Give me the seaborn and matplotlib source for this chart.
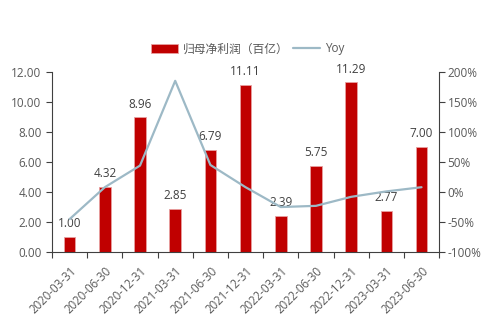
import matplotlib
matplotlib.use("Agg")
import matplotlib.pyplot as plt
import matplotlib.transforms as mtransforms
import seaborn as sns
import numpy as np
import pandas as pd
from matplotlib.patches import Patch
from matplotlib.lines import Line2D
from matplotlib.ticker import FuncFormatter, FixedLocator

dates = ["2020-03-31", "2020-06-30", "2020-12-31", "2021-03-31", "2021-06-30",
         "2021-12-31", "2022-03-31", "2022-06-30", "2022-12-31", "2023-03-31", "2023-06-30"]
profit = [1.00, 4.32, 8.96, 2.85, 6.79, 11.11, 2.39, 5.75, 11.29, 2.77, 7.00]
yoy = [-45, 8, 44, 185, 45, 8, -25, -23, -8, 1, 8]

bar_label = "归母净利润（百亿）"
line_label = "Yoy"

sns.set_theme(style="white")
plt.rcParams['font.family'] = ['Open Sans', 'Noto Sans CJK SC', 'DejaVu Sans']

txt = "#595959"
spine_c = "#404040"
bar_c = "#C00000"
line_c = "#9DB9C6"

fig = plt.figure(figsize=(4.82, 3.22), dpi=100)
ax = fig.add_axes([0.108, 0.217, 0.803, 0.56])

df = pd.DataFrame({"date": dates, "profit": profit, "idx": np.arange(len(dates)), "yoy": yoy})
sns.barplot(data=df, x="date", y="profit", color=bar_c, width=0.33, ax=ax,
            edgecolor="#E8A0A0", linewidth=0.6, saturation=1)

for i, v in enumerate(profit):
    ax.annotate(f"{v:.2f}", (i, v), xytext=(0, 5), textcoords="offset points",
                ha="center", va="bottom", fontsize=8.5, color="#404040")

ax.set_ylim(0, 12)
ax.set_yticks(np.arange(0, 12.01, 2))
ax.yaxis.set_major_formatter(FuncFormatter(lambda v, p: f"{v:.2f}"))
ax.set_xlim(-0.5, len(dates) - 0.5)
ax.set_xlabel("")
ax.set_ylabel("")

ax2 = ax.twinx()
sns.lineplot(data=df, x="idx", y="yoy", color=line_c, linewidth=1.6, ax=ax2)
ax2.set_ylim(-100, 200)
ax2.set_yticks(np.arange(-100, 201, 50))
ax2.yaxis.set_major_formatter(FuncFormatter(lambda v, p: f"{v:.0f}%"))
ax2.set_xlim(-0.5, len(dates) - 0.5)
ax2.set_ylabel("")
ax2.set_xlabel("")

ax.set_xticks(np.arange(len(dates)))
ax.set_xticklabels(dates, rotation=45, ha="right", rotation_mode="anchor")
offset = mtransforms.ScaledTranslation(4 / 100, 0, fig.dpi_scale_trans)
for lab in ax.get_xticklabels():
    lab.set_transform(lab.get_transform() + offset)
ax.xaxis.set_minor_locator(FixedLocator(np.arange(-0.5, len(dates), 1)))
ax.tick_params(axis="x", which="major", length=0, labelsize=8.3, labelcolor=txt, pad=9)
ax.tick_params(axis="x", which="minor", length=4, width=0.8, color=spine_c, direction="out", bottom=True)
ax.tick_params(axis="y", length=4, width=0.8, color=spine_c, direction="out", left=True, labelsize=8.5, labelcolor=txt)
ax2.tick_params(axis="y", length=4, width=0.8, color=spine_c, direction="out", right=True, labelsize=8.5, labelcolor=txt, pad=2)

for a in (ax, ax2):
    a.spines["top"].set_visible(False)
    for s in ("left", "right", "bottom"):
        a.spines[s].set_color(spine_c)
        a.spines[s].set_linewidth(0.8)
    a.grid(False)
ax2.spines["left"].set_visible(False)
ax2.spines["bottom"].set_visible(False)
ax.spines["right"].set_visible(False)

handles = [Patch(facecolor=bar_c, edgecolor="#E8A0A0", linewidth=0.6),
           Line2D([0], [0], color=line_c, linewidth=1.6)]
fig.legend(handles, [bar_label, line_label], loc="center", bbox_to_anchor=(0.514, 0.848),
           ncol=2, frameon=False, fontsize=8.5, labelcolor=txt, handlelength=2.3,
           handleheight=0.8, columnspacing=0.4, handletextpad=0.4)

fig.savefig("out.png", dpi=100)
